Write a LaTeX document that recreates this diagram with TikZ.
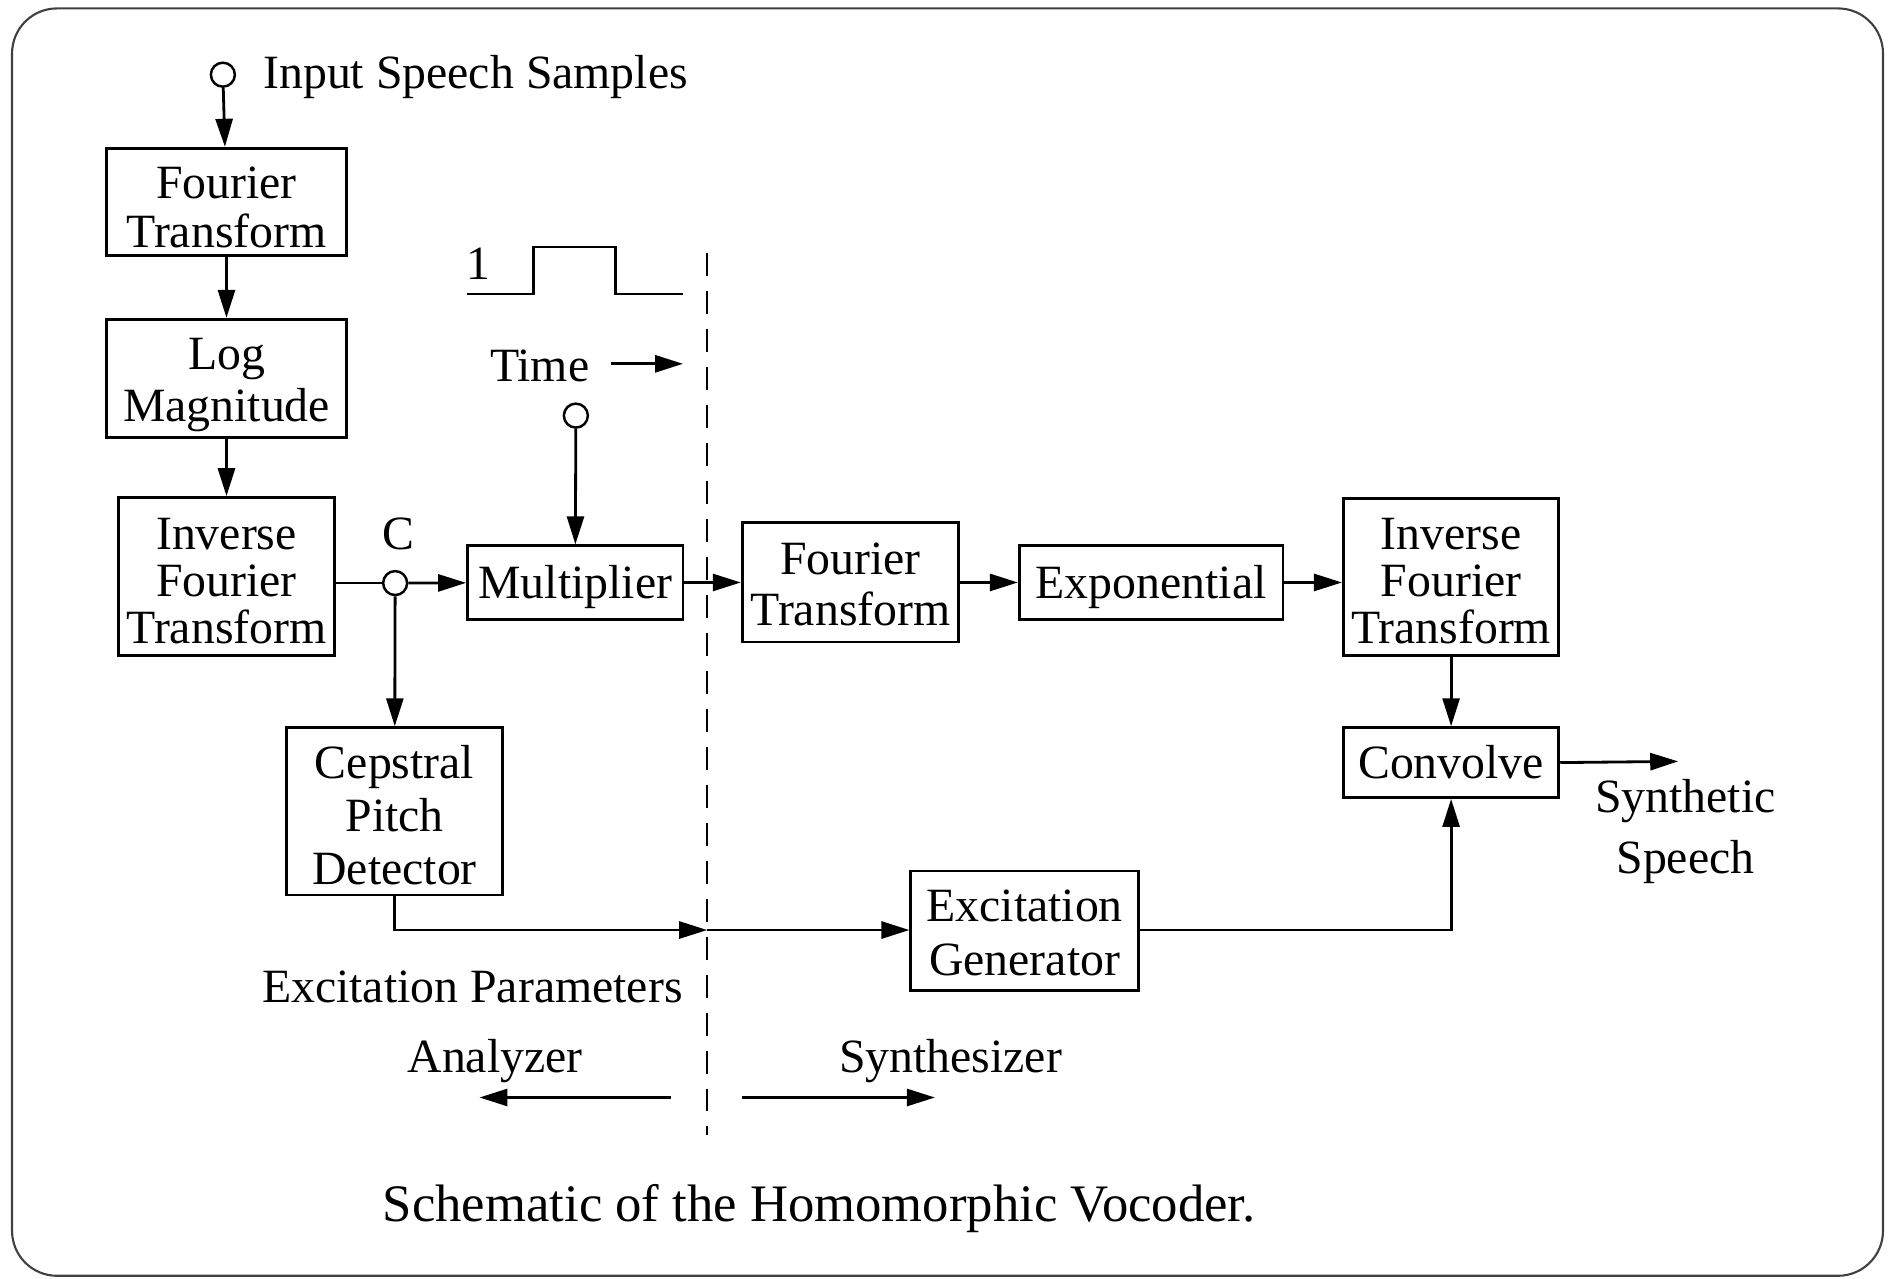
\documentclass[tikz,border=0pt]{standalone}
\usepackage{fontspec}
\setmainfont{Liberation Serif}
\usetikzlibrary{arrows.meta}

\begin{document}
\begin{tikzpicture}[x=0.012047cm,y=-0.012047cm,
    font=\fontsize{13.6}{13.8}\selectfont,
    block/.style={draw,line width=0.8pt,align=center,inner sep=0pt,text depth=0pt,text height=8.9pt},
    lskip/.style={font=\fontsize{13.6}{#1}\selectfont},
    port/.style={draw,circle,line width=0.7pt,minimum size=0.24cm,inner sep=0pt},
    lbl/.style={inner sep=0pt,align=center},
    flow/.style={line width=0.8pt,-{Triangle[length=2.8mm,width=1.7mm]}},
    wire/.style={line width=0.8pt}]
\useasboundingbox (0,0) rectangle (1568,1061);
\draw[line width=0.6pt,color=black!75,rounded corners=0.45cm] (10,7) rectangle (1563,1059);

% analyzer side
\node[port] (in) at (185,62) {};
\node[lbl,anchor=west] (inlbl) at (218,64) {Input Speech Samples};
\node[block,lskip=14pt,text height=26.3pt,minimum width=2.409cm,minimum height=1.072cm] (ft1) at (188,167.5) {Fourier\\Transform};
\node[block,lskip=14.7pt,text height=24.6pt,minimum width=2.409cm,minimum height=1.181cm] (log) at (188,314) {Log\\Magnitude};
\node[block,lskip=13.4pt,text height=38.1pt,minimum width=2.168cm,minimum height=1.578cm] (ift1) at (188,478.5) {Inverse\\Fourier\\Transform};
\node[port] (cc) at (328,484) {};
\node[lbl] (clbl) at (331,443) {C};
\node[block,minimum width=2.156cm,minimum height=0.735cm] (mult) at (477.5,483.5) {Multiplier};
\node[port] (tc) at (478,345) {};
\node[lbl] (tm) at (448,304) {Time};
\coordinate (ts) at (507,302);
\coordinate (te) at (567,302);
\node[lbl] (one) at (397,219) {1};
\draw[wire] (388,244) -- (443,244) -- (443,205) -- (511,205) -- (511,244) -- (567,244);
\node[block,lskip=15.1pt,text height=41.5pt,minimum width=2.156cm,minimum height=1.675cm] (ceps) at (327.5,673.5) {Cepstral\\Pitch\\Detector};
\node[lbl] (exlbl) at (392,819) {Excitation Parameters};

% divider
\draw[line width=0.6pt,dash pattern=on 2.3mm off 1.5mm] (587,210) -- (587,942);
\coordinate (dl) at (587,772);

% synthesizer side
\node[block,lskip=14.4pt,text height=24.3pt,minimum width=2.168cm,minimum height=1.193cm] (ft2) at (706,483.5) {Fourier\\Transform};
\node[block,minimum width=2.638cm,minimum height=0.735cm] (expo) at (955.5,483.5) {Exponential};
\node[block,lskip=13.4pt,text height=37.8pt,minimum width=2.156cm,minimum height=1.566cm] (ift2) at (1204.5,479) {Inverse\\Fourier\\Transform};
\node[block,minimum width=2.156cm,minimum height=0.699cm] (conv) at (1204.5,633) {Convolve};
\node[block,lskip=15.4pt,text height=25.7pt,minimum width=2.277cm,minimum height=1.193cm] (exgen) at (850.5,772.5) {Excitation\\Generator};
\coordinate (out) at (1393,632);
\node[lbl] (synlbl) at (1399,690) {Synthetic\\[3.5pt]Speech};

% side labels
\node[lbl] (anlbl) at (411,881) {Analyzer};
\node[lbl] (sylbl) at (789,881) {Synthesizer};
\coordinate (as) at (557,911);
\coordinate (ae) at (398,911);
\coordinate (ss) at (616,911);
\coordinate (se) at (776,911);
\node[lbl,font=\fontsize{15}{15}\selectfont] (cap) at (680,1003) {Schematic of the Homomorphic Vocoder.};

% connectors
\draw[flow] (in) -- (ft1);
\draw[flow] (ft1) -- (log);
\draw[flow] (log) -- (ift1);
\draw[wire] (ift1.east |- cc) -- (cc);
\draw[flow] (cc) -- (mult);
\draw[flow] (tc) -- (mult);
\draw[flow] (ts) -- (te);
\draw[flow] (mult) -- (ft2);
\draw[flow] (ft2) -- (expo);
\draw[flow] (expo.east) -- (ift2.west |- expo.east);
\draw[flow] (ift2) -- (conv);
\draw[flow] (conv.east) -- (out);
\draw[flow] (cc) -- (ceps);
\draw[flow] (ceps.south) |- (dl);
\draw[flow] (dl) -- (exgen.west |- dl);
\draw[flow] (exgen.east |- dl) -| (conv.south);
\draw[flow] (as) -- (ae);
\draw[flow] (ss) -- (se);
\end{tikzpicture}
\end{document}
